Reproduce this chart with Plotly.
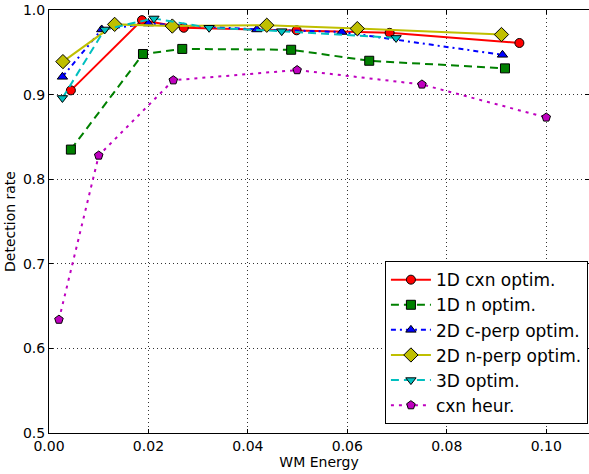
import plotly.graph_objects as go

x_1d_cxn = [0.0044, 0.0187, 0.0271, 0.0498, 0.0685, 0.0946]
y_1d_cxn = [0.905, 0.988, 0.979, 0.976, 0.973, 0.961]

x_1d_n = [0.0044, 0.0189, 0.0268, 0.0487, 0.0644, 0.0917]
y_1d_n = [0.835, 0.948, 0.954, 0.953, 0.940, 0.931]

x_2d_c = [0.0027, 0.0106, 0.0200, 0.0418, 0.0589, 0.0912]
y_2d_c = [0.921, 0.977, 0.984, 0.977, 0.974, 0.947]

x_2d_n = [0.0028, 0.0132, 0.0248, 0.0438, 0.0620, 0.0910]
y_2d_n = [0.939, 0.983, 0.981, 0.982, 0.978, 0.971]

x_3d = [0.0027, 0.0112, 0.0211, 0.0322, 0.0468, 0.0698]
y_3d = [0.896, 0.977, 0.990, 0.979, 0.975, 0.967]

x_heur = [0.0020, 0.0100, 0.0250, 0.0499, 0.0750, 0.1000]
y_heur = [0.634, 0.828, 0.917, 0.929, 0.912, 0.873]

series = [
    ("1D cxn optim.", x_1d_cxn, y_1d_cxn, "#ff0000", "solid", "circle", 9),
    ("1D n optim.", x_1d_n, y_1d_n, "#008000", "8px,5px", "square", 9),
    ("2D c-perp optim.", x_2d_c, y_2d_c, "#0000ff", "5px,4px,2px,4px", "triangle-up", 9),
    ("2D n-perp optim.", x_2d_n, y_2d_n, "#bfbf00", "solid", "diamond", 11),
    ("3D optim.", x_3d, y_3d, "#00bfbf", "8px,5px", "triangle-down", 9),
    ("cxn heur.", x_heur, y_heur, "#bf00bf", "3px,5px", "pentagon", 9),
]

fig = go.Figure()
for name, xs, ys, col, dash, sym, sz in series:
    fig.add_trace(go.Scatter(
        x=xs, y=ys, name=name, mode="lines+markers",
        line=dict(color=col, width=2, dash=dash),
        marker=dict(symbol=sym, size=sz, color=col, line=dict(color="black", width=1)),
    ))

axis_common = dict(
    showgrid=True, gridcolor="#333333", griddash="1px,3px", gridwidth=1,
    showline=True, linecolor="black", linewidth=1, mirror="ticks",
    ticks="inside", ticklen=4, tickcolor="black",
    zeroline=False, tickfont=dict(family="DejaVu Sans", size=14, color="black"),
)

fig.update_layout(
    width=589, height=474,
    margin=dict(l=49, r=0, t=10, b=41),
    plot_bgcolor="white", paper_bgcolor="white",
    font=dict(family="DejaVu Sans", color="black"),
    xaxis=dict(range=[0, 0.1086], dtick=0.02, tickformat=".2f",
               title=dict(text="WM Energy", font=dict(size=14), standoff=0), **axis_common),
    yaxis=dict(range=[0.5, 1.0], dtick=0.1, tickformat=".1f",
               title=dict(text="Detection rate", font=dict(size=14), standoff=4), **axis_common),
    legend=dict(x=0.998, y=0.021, xanchor="right", yanchor="bottom",
                bgcolor="white", bordercolor="black", borderwidth=1,
                font=dict(size=17), tracegroupgap=0, itemwidth=40),
    showlegend=True,
)

fig.write_html("out.html")
